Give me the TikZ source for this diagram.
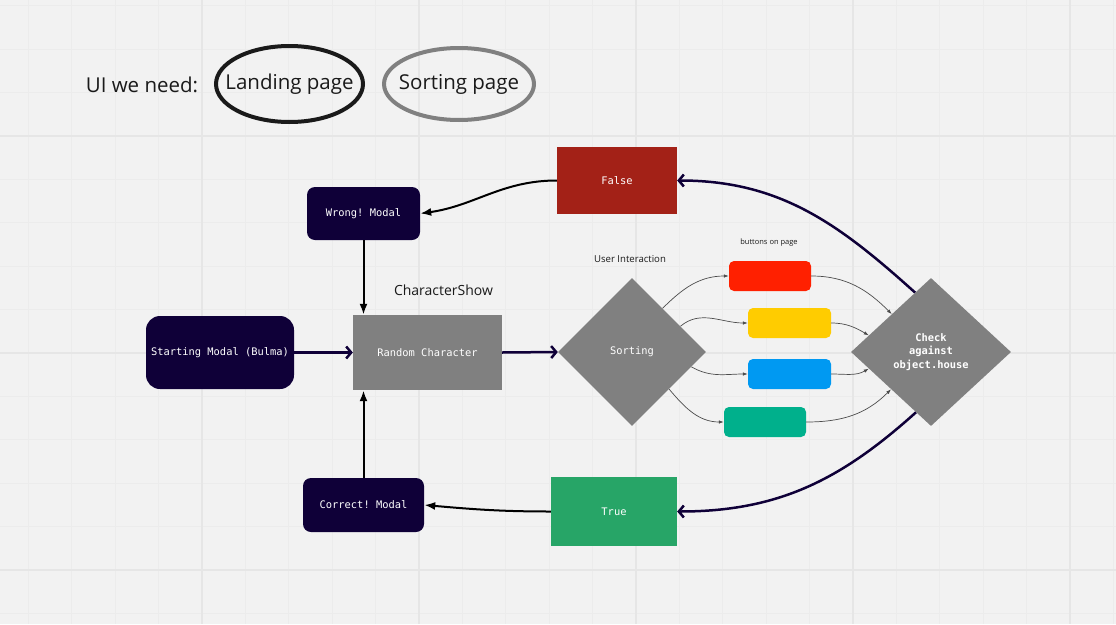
\documentclass[tikz,border=0pt]{standalone}
\usepackage{fontspec}
\setmainfont{Open Sans}
\setmonofont{DejaVu Sans Mono}
\usetikzlibrary{shapes.geometric,arrows.meta,positioning}

\definecolor{navy}{HTML}{0F0038}
\definecolor{boardgrey}{HTML}{808080}
\definecolor{falsered}{HTML}{A32117}
\definecolor{truegreen}{HTML}{27A567}
\definecolor{btnred}{HTML}{FF2000}
\definecolor{btnyellow}{HTML}{FFCC00}
\definecolor{btnblue}{HTML}{0099F2}
\definecolor{btnteal}{HTML}{00B08C}
\definecolor{paper}{HTML}{F2F2F2}
\definecolor{gridminor}{HTML}{ECECEC}
\definecolor{gridmajor}{HTML}{E6E6E6}
\definecolor{ink}{HTML}{1A1A1A}

\tikzset{
  mono/.style={font=\ttfamily\fontsize{10.4}{13.5}\selectfont, text=white},
  modal/.style={mono, rectangle, rounded corners=8pt, fill=navy, inner sep=0pt},
  block/.style={mono, rectangle, inner sep=0pt},
  decision/.style={mono, diamond, fill=boardgrey, inner sep=0pt, align=center},
  button/.style={rectangle, rounded corners=5pt, minimum width=82pt, minimum height=30pt, inner sep=0pt},
  pageoval/.style={ellipse, line width=4pt, inner sep=0pt, label={[text=ink, font=\fontsize{20.5}{24}\selectfont]center:#1}},
  note/.style={text=ink, inner sep=0pt},
  navyarrow/.style={draw=navy, line width=2.5pt, -{Straight Barb[length=5pt,width=12pt]}},
  blackarrow/.style={draw=black, line width=2pt, -{Latex[length=11pt,width=8pt]}},
  tapline/.style={draw=black!70, line width=0.7pt, -{Latex[length=5pt,width=3.5pt]}}
}

\begin{document}
\begin{tikzpicture}[x=1pt,y=-1pt]
\useasboundingbox (0,0) rectangle (1116,624);
%Hintergrund mit Raster
\fill[paper] (0,0) rectangle (1116,624);
\foreach \gx in {0,...,25} \draw[gridminor, line width=1pt] (28.4+43.4*\gx,0) -- (28.4+43.4*\gx,624);
\foreach \gy in {0,...,14} \draw[gridminor, line width=1pt] (0,5.8+43.4*\gy) -- (1116,5.8+43.4*\gy);
\foreach \gx in {0,...,4} \draw[gridmajor, line width=1.2pt] (202+217*\gx,0) -- (202+217*\gx,624);
\foreach \gy in {0,...,2} \draw[gridmajor, line width=1.2pt] (0,136+217*\gy) -- (1116,136+217*\gy);

%Oben: welche Seiten
\node[note, font=\fontsize{20.5}{24}\selectfont] (uineed) at (142,85) {UI we need:};
\node[pageoval={Landing page}, draw=ink, minimum width=147pt, minimum height=76pt] (landing) at (289.5,84) {};
\node[pageoval={Sorting page}, draw=boardgrey, minimum width=150pt, minimum height=72pt] (sortpage) at (459,84) {};

%Knoten
\node[block, fill=falsered, minimum width=120pt, minimum height=67pt] (false) at (617,180.5) {False};
\node[modal, minimum width=113pt, minimum height=53pt] (wrong) at (363.5,213.5) {Wrong! Modal};
\node[modal, rounded corners=14pt, minimum width=148pt, minimum height=73pt] (start) at (220,352.5) {Starting Modal (Bulma)};
\node[block, fill=boardgrey, minimum width=149pt, minimum height=75pt] (random) at (427.5,352.5) {Random Character};
\node[decision, minimum width=148pt, minimum height=148pt] (sorting) at (632,352) {Sorting};
\node[decision, font=\ttfamily\bfseries\fontsize{10.4}{13.5}\selectfont, minimum width=160pt, minimum height=148pt] (check) at (931,352) {Check\\against\\object.house};
\node[block, fill=truegreen, minimum width=126pt, minimum height=69pt] (true) at (614,511.5) {True};
\node[modal, minimum width=121pt, minimum height=54pt] (correct) at (363.5,505) {Correct! Modal};

\node[button, fill=btnred] (redbtn) at (770,276) {};
\node[button, fill=btnyellow, minimum width=83pt] (yellowbtn) at (789.5,323) {};
\node[button, fill=btnblue, minimum width=83pt] (bluebtn) at (789.5,374) {};
\node[button, fill=btnteal] (tealbtn) at (765,422) {};

%Beschriftungen
\node[note, font=\fontsize{14}{16}\selectfont] (charshow) at (443.5,290) {CharacterShow};
\node[note, font=\fontsize{9.6}{11}\selectfont] (userint) at (630,259) {User Interaction};
\node[note, font=\fontsize{7.5}{9}\selectfont] (btnnote) at (769,243) {buttons on page};

%Pfeile
\draw[navyarrow] (start.east) -- (random.west);
\draw[navyarrow] (random.east) -- (sorting.west);
\draw[blackarrow] (wrong.south) -- (wrong.south |- random.north);
\draw[blackarrow] (correct.north) -- (correct.north |- random.south);
\draw[blackarrow] (false.west) to[out=180,in=8] (wrong.east);
\draw[blackarrow] (true.west) to[out=180,in=-5] (correct.east);
\draw[navyarrow] (check.105) to[out=138,in=0] (false.east);
\draw[navyarrow] (check.256) to[out=222,in=0] (true.east);
\foreach \btn/\sa/\so/\ea/\ei in {redbtn/55/45/136/135, yellowbtn/28/40/165/150, bluebtn/-14/-30/195/210, tealbtn/-45/-50/223/225}{
  \draw[tapline] (sorting.\sa) to[out=\so,in=180] (\btn.west);
  \draw[tapline] (\btn.east) to[out=0,in=\ei] (check.\ea);
}
\end{tikzpicture}
\end{document}
